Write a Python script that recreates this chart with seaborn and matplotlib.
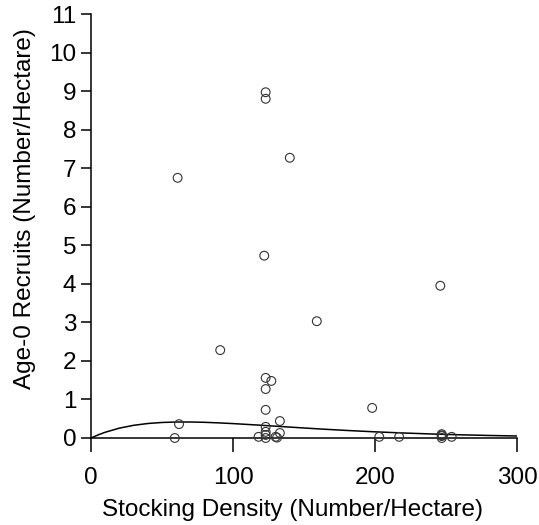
import matplotlib
matplotlib.use("Agg")
import matplotlib.pyplot as plt
import seaborn as sns
import pandas as pd

# observed stocking density vs age-0 recruits
density = [59, 61, 62, 91, 122, 123, 123, 140, 159, 198, 246,
           123, 127, 123, 123, 133, 123, 123, 123, 123, 118, 133, 130, 131,
           203, 217, 247, 247, 247, 247, 254]
recruits = [0.0, 6.75, 0.36, 2.28, 4.73, 8.97, 8.8, 7.27, 3.03, 0.78, 3.95,
            1.56, 1.48, 1.27, 0.73, 0.44, 0.29, 0.16, 0.08, 0.0, 0.03, 0.13, 0.03, 0.01,
            0.03, 0.03, 0.0, 0.05, 0.1, 0.07, 0.03]

# fitted stock-recruit curve
curve_x = [0, 5, 10, 20, 30, 40, 50, 60, 70, 80, 90, 100, 120, 140, 160,
           180, 200, 220, 240, 260, 280, 300]
curve_y = [0.0, 0.08, 0.149, 0.256, 0.329, 0.376, 0.403, 0.415, 0.415, 0.407,
           0.392, 0.374, 0.330, 0.283, 0.237, 0.196, 0.160, 0.130, 0.104,
           0.083, 0.066, 0.052]

pts = pd.DataFrame({"density": density, "recruits": recruits})
fit = pd.DataFrame({"density": curve_x, "recruits": curve_y})

sns.set_style("white")
plt.rcParams["font.family"] = ["Liberation Sans", "DejaVu Sans"]

fig = plt.figure(figsize=(5.39, 5.25), dpi=100)
ax = fig.add_axes([91 / 539, 87 / 525, 426 / 539, 424 / 525])

sns.lineplot(data=fit, x="density", y="recruits", color="black", lw=1.1, ax=ax)
sns.scatterplot(data=pts, x="density", y="recruits", marker="o", s=40,
                facecolor="none", edgecolor="#333333", linewidth=0.8,
                clip_on=False, zorder=3, ax=ax)

ax.set_xlim(0, 300)
ax.set_ylim(0, 11)
ax.set_xticks([0, 100, 200, 300])
ax.set_yticks(range(0, 12))
sns.despine(ax=ax)
for s in ["left", "bottom"]:
    ax.spines[s].set_color("black")
    ax.spines[s].set_linewidth(1.1)

ax.tick_params(axis="x", direction="out", length=10, width=1.1, pad=11,
               labelsize=17.5, colors="black", bottom=True)
ax.tick_params(axis="y", direction="out", length=7.5, width=1.1, pad=3,
               labelsize=17.5, colors="black", left=True)

ax.set_xlabel("Stocking Density (Number/Hectare)", fontsize=17.5, color="black")
ax.set_ylabel("Age-0 Recruits (Number/Hectare)", fontsize=17.5, color="black")
ax.xaxis.set_label_coords(0.473, -0.145)
ax.yaxis.set_label_coords(-0.128, 0.542)

fig.savefig("out.png", dpi=100)
